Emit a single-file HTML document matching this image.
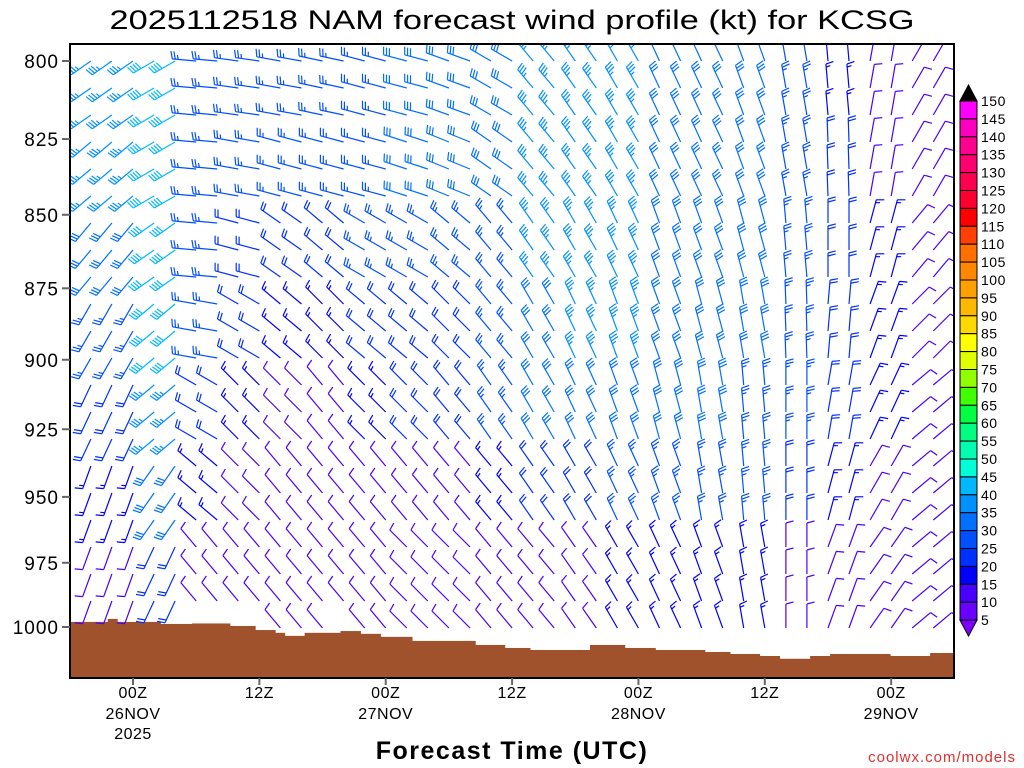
<!DOCTYPE html>
<html><head><meta charset="utf-8"><style>
html,body{margin:0;padding:0;background:#fff;}
svg{display:block;font-family:"Liberation Sans",sans-serif;}
</style></head><body>
<svg id="chart" width="1024" height="768" viewBox="0 0 1024 768">
<defs><clipPath id="plotclip"><rect x="70" y="44" width="884" height="634"/></clipPath></defs>
<text x="512" y="29" text-anchor="middle" font-size="27" textLength="805" lengthAdjust="spacingAndGlyphs" fill="#000">2025112518 NAM forecast wind profile (kt) for KCSG</text>
<g id="terrain" clip-path="url(#plotclip)"></g>
<g id="barbs" clip-path="url(#plotclip)"></g>
<rect x="70" y="44" width="884" height="634" fill="none" stroke="#000" stroke-width="2"/>
<g id="yaxis"></g>
<g id="xaxis"></g>
<text x="512" y="759" text-anchor="middle" font-size="25" letter-spacing="1.5" font-weight="bold" fill="#000">Forecast Time (UTC)</text>
<text x="1016" y="762" text-anchor="end" font-size="15" letter-spacing="1" fill="#e03030">coolwx.com/models</text>
<g id="cbar"></g>
</svg>
<script>
// ---- data ----
const yTickLabels = [800, 825, 850, 875, 900, 925, 950, 975, 1000];
const xTickHours = [0, 12, 24, 36, 48, 60, 72];
const xTickLabels = ["00Z", "12Z", "00Z", "12Z", "00Z", "12Z", "00Z"];
const xDateLabels = ["26NOV", "", "27NOV", "", "28NOV", "", "29NOV"];
const xYearLabels = ["2025", "", "", "", "", "", ""];
const barbHours = [-4,-2,0,2,4,6,8,10,12,14,16,18,20,22,24,26,28,30,32,34,36,38,40,42,44,46,48,50,52,54,56,58,60,62,64,66,68,70,72,74,76,78];
const dirBand0 = [235,235,240,275,278,280,282,285,285,290,300,320,325,330,335,335,340,350,355,10,30,40];
const spdBand0 = [35,35,40,25,25,25,25,25,30,30,30,35,35,35,30,30,30,25,15,10,10,10];
const dirBand1 = [230,230,240,275,280,285,285,285,288,292,305,320,325,330,335,335,340,350,358,10,30,45];
const spdBand1 = [35,35,40,25,25,25,25,25,30,30,30,35,35,35,30,30,30,25,20,10,10,10];
const dirBand2 = [220,220,235,275,285,305,310,300,300,310,320,325,330,335,340,340,345,355,0,15,40,55];
const spdBand2 = [30,30,40,25,20,20,20,25,25,25,25,35,35,35,30,30,30,25,20,15,10,10];
const dirBand3 = [210,210,230,280,300,310,315,310,310,315,320,330,335,340,340,345,350,358,5,20,45,60];
const spdBand3 = [25,25,40,25,20,15,15,20,20,20,25,30,35,35,30,30,30,25,20,15,10,10];
const dirBand4 = [205,205,230,300,315,315,320,315,315,320,325,330,335,340,345,350,355,0,10,25,50,65];
const spdBand4 = [20,20,35,20,15,12,12,15,20,20,25,30,30,30,30,30,25,25,20,15,10,10];
const dirBand5 = [200,200,215,310,315,320,320,320,320,320,320,325,330,335,340,350,355,0,15,30,50,65];
const spdBand5 = [15,15,30,15,10,10,10,12,12,12,15,20,20,25,25,25,25,20,15,10,10,10];
const dirBand6 = [200,200,205,320,320,320,320,320,315,315,320,320,325,330,335,340,350,0,20,35,50,60];
const spdBand6 = [10,12,20,10,10,10,10,10,10,10,10,12,12,15,15,15,15,12,10,10,10,10];
const terrainHours = [-6,-2.4,-1.5,2.6,5.6,9.2,11.6,13.5,14.4,16.3,19.7,21.6,23.5,26.5,32.5,35.3,37.7,43.4,46.7,49.6,54.3,56.7,59.5,61.4,64.3,66.2,71.9,75.7];
const surfacePres = [998.0,996.8,998.0,998.8,998.6,999.6,1001.2,1002.3,1003.5,1002.3,1001.6,1002.7,1003.9,1005.5,1007.1,1008.3,1009.1,1007.1,1008.3,1009.1,1009.9,1010.7,1011.5,1012.6,1011.5,1010.7,1011.5,1010.3];
const cbarLabels = [150,145,140,135,130,125,120,115,110,105,100,95,90,85,80,75,70,65,60,55,50,45,40,35,30,25,20,15,10,5];
const cbarColors = ["#ff00ff","#ff00c0","#ff0090","#ff0070","#ff0050","#ff0030","#ff0000","#ff4000","#ff7000","#ff8800","#ffa000","#ffb800","#ffd800","#ffff00","#e0ff00","#90ff00","#40ff00","#00ff40","#00ff80","#00ffb0","#00ffd8","#00b8ff","#0090ff","#0070ff","#0050ff","#0030ff","#0000ff","#4a00ff","#6a00ff"];

const dirBands = [dirBand0,dirBand1,dirBand2,dirBand3,dirBand4,dirBand5,dirBand6];
const spdBands = [spdBand0,spdBand1,spdBand2,spdBand3,spdBand4,spdBand5,spdBand6];

// ---- scales ----
const NS = "http://www.w3.org/2000/svg";
const X0 = 133, PXH = 10.53;
function xOf(t){ return X0 + t*PXH; }
const Y800 = 61, Y1000 = 627;
function yOf(p){ return Y800 + (Math.log(p) - Math.log(800)) / (Math.log(1000) - Math.log(800)) * (Y1000 - Y800); }
function mk(tag, attrs, parent){ const e = document.createElementNS(NS, tag); for (const k in attrs) e.setAttribute(k, attrs[k]); parent.appendChild(e); return e; }
function spdColor(s){
  if (s < 5) return "#7f00ff";
  let i = Math.floor(s/5) - 1; if (i > 28) i = 28;
  return cbarColors[28 - i];
}

// terrain
const tg = document.getElementById("terrain");
for (let i = 0; i < terrainHours.length; i++) {
  const xa = Math.max(70, xOf(terrainHours[i]));
  const xb = i + 1 < terrainHours.length ? xOf(terrainHours[i+1]) : 954;
  const y = yOf(surfacePres[i]);
  const r = mk("rect", {x: xa, y: y, width: Math.min(954, xb) - xa + 0.5, height: 678 - y, fill: "#a0522d"}, tg);
  
  
}
function surfAt(t){ let p = surfacePres[0]; for (let i = 0; i < terrainHours.length; i++) if (terrainHours[i] <= t) p = surfacePres[i]; return p; }

// barbs
const bg = document.getElementById("barbs");
const ROWS = 24, DY = 27;
for (const t of barbHours) {
  let g = Math.floor((t + 6) / 4); if (g > 21) g = 21; if (g < 0) g = 0;
  const sx = xOf(t);
  const surfY = yOf(surfAt(t));
  for (let k = 0; k < ROWS; k++) {
    const sy = Y800 + k*DY;
    if (sy > surfY - 4) break;
    let b = Math.floor(k / 3); if (b > 6) b = 6;
    const d = dirBands[b][g] * Math.PI / 180;
    const s = spdBands[b][g];
    const ux = Math.sin(d), uy = -Math.cos(d);
    const L = 24;
    const tx = sx + L*ux, ty = sy + L*uy;
    const a = 75 * Math.PI / 180;
    const fx = ux*Math.cos(a) - uy*Math.sin(a), fy = ux*Math.sin(a) + uy*Math.cos(a);
    const col = spdColor(s);
    let pth = `M${sx.toFixed(1)},${sy.toFixed(1)}L${tx.toFixed(1)},${ty.toFixed(1)}`;
    const r5 = Math.round(s/5)*5;
    const nFull = Math.floor(r5/10), half = (r5 % 10) === 5;
    let pos = 0;
    for (let i = 0; i < nFull; i++) {
      const px = tx - ux*pos, py = ty - uy*pos;
      pth += `M${px.toFixed(1)},${py.toFixed(1)}l${(fx*8).toFixed(1)},${(fy*8).toFixed(1)}`;
      pos += 3;
    }
    if (half) {
      if (nFull === 0) pos = 3;
      const px = tx - ux*pos, py = ty - uy*pos;
      pth += `M${px.toFixed(1)},${py.toFixed(1)}l${(fx*4.5).toFixed(1)},${(fy*4.5).toFixed(1)}`;
    }
    const p = mk("path", {d: pth, stroke: col, "stroke-width": 1.2, fill: "none"}, bg);
    
    
  }
}

// y axis
const ya = document.getElementById("yaxis");
for (const v of yTickLabels) {
  const y = yOf(v);
  const l = mk("line", {x1: 62, x2: 70, y1: y, y2: y, stroke: "#666", "stroke-width": 2}, ya);
  
  
  const tx = mk("text", {x: 59, y: y + 7, "text-anchor": "end", "font-size": 19, "letter-spacing": 1}, ya);
  tx.textContent = v;
  
  
}
// x axis
const xa = document.getElementById("xaxis");
xTickHours.forEach((h, i) => {
  const x = xOf(h);
  const l = mk("line", {x1: x, x2: x, y1: 678, y2: 685, stroke: "#666", "stroke-width": 2}, xa);
  
  
  [[xTickLabels[i], 698], [xDateLabels[i], 719], [xYearLabels[i], 739]].forEach(([s, yy]) => {
    if (!s) return;
    const tx = mk("text", {x: x, y: yy, "text-anchor": "middle", "font-size": 16, "letter-spacing": 0.5}, xa);
    tx.textContent = s;
    
    
  });
});
// colorbar
const cb = document.getElementById("cbar");
const CB0 = 101, CBH = 17.9, CBX = 960, CBW = 17;
const cbTop = mk("path", {d: `M${CBX},${CB0}L${CBX+CBW/2},${CB0-16}L${CBX+CBW},${CB0}Z`, fill: "#000", stroke: "#000"}, cb);


cbarColors.forEach((c, i) => {
  const r = mk("rect", {x: CBX, y: CB0 + i*CBH, width: CBW, height: CBH, fill: c, stroke: "#000", "stroke-width": 1}, cb);
  
  
});
const yb = CB0 + cbarColors.length*CBH;
const cbBot = mk("path", {d: `M${CBX},${yb}L${CBX+CBW/2},${yb+16}L${CBX+CBW},${yb}Z`, fill: "#7f00ff", stroke: "#000"}, cb);


cbarLabels.forEach((v, i) => {
  const tx = mk("text", {x: 981, y: CB0 + i*CBH + 5, "font-size": 14, "letter-spacing": 0.5}, cb);
  tx.textContent = v;
  
  
});
</script>
</body></html>
